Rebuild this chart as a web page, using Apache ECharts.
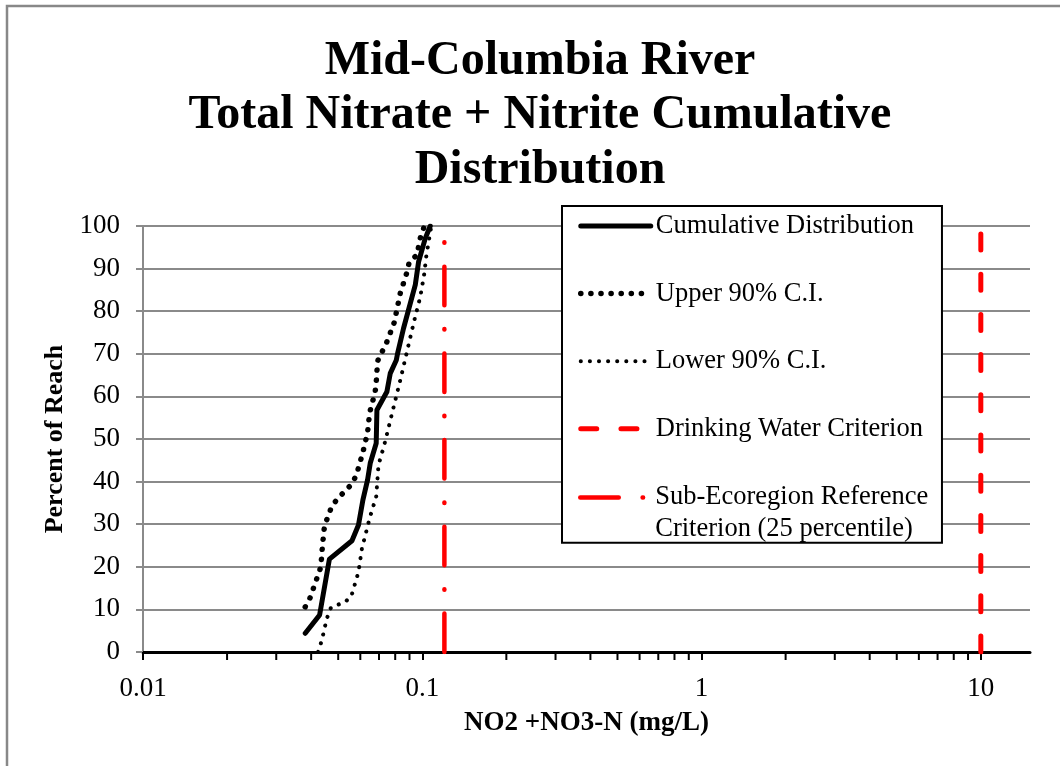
<!DOCTYPE html>
<html>
<head>
<meta charset="utf-8">
<script src="https://cdn.jsdelivr.net/npm/echarts@6/dist/echarts.min.js"></script>
<style>html,body{margin:0;padding:0;background:#fff}#c{width:1060px;height:766px}</style>
</head>
<body>
<div id="c"></div>
<script>
// ---- data ----
const titleText = 'Mid-Columbia River\nTotal Nitrate + Nitrite Cumulative\nDistribution';
const xAxisName = 'NO2 +NO3-N (mg/L)';
const yAxisName = 'Percent of Reach';

const cumX = [0.0381, 0.0429, 0.0465, 0.0560, 0.0591, 0.0613, 0.0637, 0.0651, 0.0684, 0.0688, 0.0747, 0.0768, 0.0807, 0.0816, 0.0857, 0.0944, 0.0970, 0.1025, 0.1068];
const cumY = [4.4, 8.7, 21.8, 26.1, 29.8, 35.7, 40.4, 44.3, 49.0, 56.8, 61.1, 65.4, 68.5, 70.1, 76.0, 86.2, 91.6, 97.1, 100];

const upperX = [0.0381, 0.0397, 0.04334, 0.0439, 0.04466, 0.04746, 0.0501, 0.05626, 0.0583, 0.0613, 0.0637, 0.0648, 0.0678, 0.0684, 0.0692, 0.0747, 0.0794, 0.0834, 0.0881, 0.0898, 0.0957, 0.0989, 0.1019];
const upperY = [10.6, 12.8, 20.0, 24.9, 29.6, 34.3, 36.2, 39.6, 41.9, 46.9, 51.5, 56.2, 61.0, 63.3, 68.3, 72.8, 77.4, 84.2, 89.1, 91.5, 93.2, 97.9, 100];

const lowerX = [0.04238, 0.0437, 0.04554, 0.04708, 0.0530, 0.05566, 0.0591, 0.0608, 0.0648, 0.0684, 0.0697, 0.0731, 0.0782, 0.0834, 0.0864, 0.0936, 0.0984, 0.1017, 0.1034, 0.1077];
const lowerY = [0, 2.8, 7.9, 10.4, 11.8, 13.0, 18.8, 24.3, 31.4, 36.5, 43.9, 48.6, 56.4, 63.8, 68.1, 77.8, 83.4, 88.9, 93.0, 100];

const drinkingWaterCriterion = 10;      // mg/L
const subEcoregionCriterion = 0.12;     // mg/L
const criterionY = [0, 100];

const minorTickValues = [0.02, 0.03, 0.04, 0.05, 0.06, 0.07, 0.08, 0.09,
                         0.2, 0.3, 0.4, 0.5, 0.6, 0.7, 0.8, 0.9,
                         2, 3, 4, 5, 6, 7, 8, 9];

const names = ['Cumulative Distribution', 'Upper 90% C.I.', 'Lower 90% C.I.', 'Drinking Water Criterion', 'Sub-Ecoregion Reference Criterion (25 percentile)'];
const subNameLines = ['Sub-Ecoregion Reference', 'Criterion (25 percentile)'];

// ---- chart ----
const F = "'Liberation Serif','Times New Roman',serif";
const pair = (xs, ys) => xs.map((x, i) => [x, ys[i]]);
const chart = echarts.init(document.getElementById('c'), null, {renderer: 'canvas'});

const legendCommon = {
  orient: 'vertical', left: 562,
  itemWidth: 70, itemHeight: 14,
  selectedMode: false,
  itemStyle: {color: 'rgba(0,0,0,0)', borderWidth: 0},
  lineStyle: {cap: 'round'}
};

const option = {
  animation: false,
  backgroundColor: '#fff',
  graphic: [{
    type: 'rect', silent: true, z: -10,
    shape: {x: 7, y: 6, width: 1100, height: 800},
    style: {fill: 'none', stroke: '#888', lineWidth: 2.5}
  }],
  title: {
    text: titleText,
    left: 540, top: 34, textAlign: 'center',
    padding: 0,
    textStyle: {fontFamily: F, fontSize: 48, fontWeight: 'bold', color: '#000', lineHeight: 54.5}
  },
  grid: {left: 143, right: 30, top: 226, bottom: 114, containLabel: false, outerBoundsMode: 'none'},
  legend: [
    Object.assign({}, legendCommon, {
      top: 206, z: 4,
      padding: [4, 19, 98, 16],
      itemGap: 35.6,
      backgroundColor: '#fff', borderColor: '#000', borderWidth: 2,
      textStyle: {fontFamily: F, fontSize: 26.5, color: '#000', lineHeight: 32},
      data: [
        {name: names[0], lineStyle: {width: 5}},
        {name: names[1], lineStyle: {width: 5.5}},
        {name: names[2], lineStyle: {width: 4}},
        {name: names[3], lineStyle: {width: 5}}
      ]
    }),
    Object.assign({}, legendCommon, {
      top: 484, z: 6,
      padding: [0, 0, 0, 16],
      backgroundColor: 'transparent', borderWidth: 0,
      textStyle: {
        fontFamily: F, fontSize: 26.5, color: '#000',
        rich: {
          a: {fontFamily: F, fontSize: 26.5, color: '#000', lineHeight: 64},
          b: {fontFamily: F, fontSize: 26.5, color: '#000', lineHeight: 0.01}
        }
      },
      formatter: () => '{a|' + subNameLines[0] + '}\n{b|' + subNameLines[1] + '}',
      data: [{name: names[4], lineStyle: {width: 4.5}}]
    })
  ],
  xAxis: {
    type: 'log', logBase: 10, min: 0.01, max: 15,
    axisLine: {show: true, lineStyle: {color: '#000', width: 3}},
    axisTick: {show: true, length: 8, lineStyle: {color: '#000', width: 2}},
    axisLabel: {fontFamily: F, fontSize: 27, color: '#000', margin: 23, showMaxLabel: false,
      formatter: v => String(+Number(v).toPrecision(3))},
    splitLine: {show: false},
    name: xAxisName, nameLocation: 'middle', nameGap: 58,
    nameTextStyle: {fontFamily: F, fontSize: 27, fontWeight: 'bold', color: '#000'}
  },
  yAxis: {
    type: 'value', min: 0, max: 100, interval: 10,
    axisLine: {show: true, lineStyle: {color: '#8a8a8a', width: 2}},
    axisTick: {show: true, length: 7, lineStyle: {color: '#8a8a8a', width: 2}},
    axisLabel: {fontFamily: F, fontSize: 27, color: '#000', margin: 23},
    splitLine: {show: true, lineStyle: {color: '#8a8a8a', width: 2}},
    name: yAxisName, nameLocation: 'middle', nameGap: 64,
    nameTextStyle: {fontFamily: F, fontSize: 26, fontWeight: 'bold', color: '#000'}
  },
  series: [
    {name: names[0], type: 'line', data: pair(cumX, cumY), symbol: 'none', z: 4,
     lineStyle: {color: '#000', width: 5, cap: 'round', join: 'round'}, itemStyle: {color: '#000'}},
    {name: names[1], type: 'line', data: pair(upperX, upperY), symbol: 'none', z: 3,
     lineStyle: {color: '#000', width: 5.5, type: [0.1, 10], cap: 'round'}, itemStyle: {color: '#000'}},
    {name: names[2], type: 'line', data: pair(lowerX, lowerY), symbol: 'none', z: 3,
     lineStyle: {color: '#000', width: 4, type: [0.1, 9], cap: 'round'}, itemStyle: {color: '#000'}},
    {name: names[3], type: 'line', data: criterionY.map(y => [drinkingWaterCriterion, y]), symbol: 'none', z: 2,
     lineStyle: {color: '#ff0000', width: 5, type: [16, 24.2], cap: 'round'}, itemStyle: {color: '#ff0000'}},
    {name: names[4], type: 'line', data: criterionY.map(y => [subEcoregionCriterion, y]), symbol: 'none', z: 2,
     lineStyle: {color: '#ff0000', width: 4.5, type: [38.5, 23.85, 0.5, 23.85], cap: 'round'}, itemStyle: {color: '#ff0000'}},
    {name: 'minorTicks', type: 'custom', silent: true, clip: false, z: 5,
     data: minorTickValues.map(v => [v, 0]),
     renderItem: (params, api) => {
       const p = api.coord([api.value(0), api.value(1)]);
       return {type: 'line', shape: {x1: p[0], y1: p[1], x2: p[0], y2: p[1] + 8},
               style: {stroke: '#000', lineWidth: 2}};
     }}
  ]
};
chart.setOption(option);
</script>
</body>
</html>
